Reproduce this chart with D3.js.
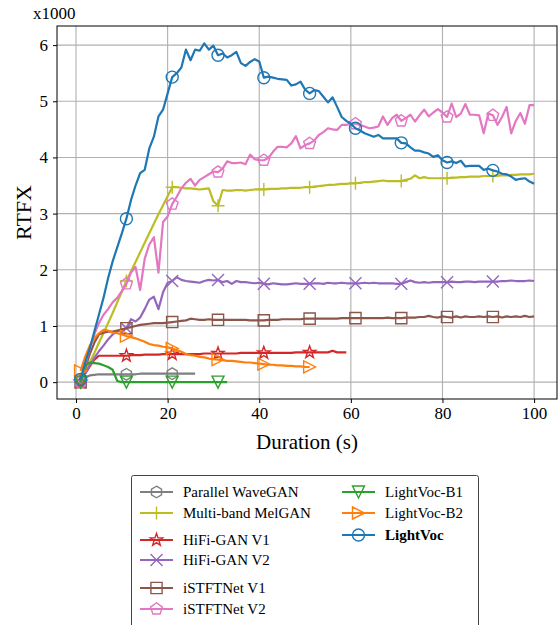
<!DOCTYPE html>
<html><head><meta charset="utf-8">
<script src="https://cdn.jsdelivr.net/npm/d3@7"></script>
<style>
body{margin:0;background:#fff}
svg{display:block}
svg text{font-family:"Liberation Serif","Times New Roman",serif !important;fill:#000}
</style>
</head><body>
<svg id="c" width="558" height="625"></svg>
<script>
// ---- data (RTFX in thousands, durations 1..N seconds, step 1 s) ----
const xTicks = [0, 20, 40, 60, 80, 100];
const yTicks = [0, 1, 2, 3, 4, 5, 6];
const seriesNames = ["Parallel WaveGAN","Multi-band MelGAN","HiFi-GAN V1","HiFi-GAN V2","iSTFTNet V1","iSTFTNet V2","LightVoc-B1","LightVoc-B2","LightVoc"];
const seriesColors = ["#7f7f7f","#bcbd22","#d62728","#9467bd","#8c564b","#e377c2","#2ca02c","#ff7f0e","#1f77b4"];
const seriesMarkers = ["h","+","*","x","s","p","v",">","o"];

const parallelWaveGAN = [0.02,0.08,0.12,0.13,0.14,0.14,0.14,0.14,0.14,0.14,0.14,0.14,0.14,0.15,0.15,0.15,0.15,0.15,0.15,0.15,0.15,0.15,0.15,0.15,0.15,0.15];
const multiBandMelGAN = [0.0,0.17,0.35,0.52,0.7,0.87,1.05,1.23,1.42,1.61,1.8,1.97,2.14,2.31,2.48,2.65,2.82,2.99,3.15,3.31,3.47,
  3.47,3.46,3.45,3.45,3.44,3.43,3.44,3.45,3.22,3.14,3.42,3.41,3.41,3.42,3.42,3.41,3.42,3.43,3.43,
  3.43,3.44,3.44,3.44,3.45,3.45,3.46,3.46,3.46,3.47,3.47,3.48,3.49,3.5,3.51,3.51,3.52,3.53,3.53,3.54,
  3.54,3.55,3.56,3.56,3.57,3.58,3.59,3.58,3.58,3.58,3.58,3.6,3.62,3.68,3.63,3.65,3.63,3.63,3.63,3.63,
  3.63,3.64,3.64,3.65,3.65,3.66,3.66,3.66,3.67,3.67,3.67,3.68,3.68,3.68,3.69,3.69,3.7,3.7,3.7,3.71];
const hifiGANV1 = [0.0,0.15,0.28,0.4,0.47,0.47,0.47,0.47,0.47,0.47,0.47,0.48,0.48,0.48,0.49,0.49,0.49,0.49,0.5,0.5,
  0.5,0.5,0.5,0.5,0.5,0.5,0.5,0.51,0.51,0.51,0.51,0.51,0.51,0.51,0.51,0.52,0.52,0.52,0.52,0.52,
  0.52,0.52,0.52,0.52,0.52,0.52,0.52,0.53,0.53,0.53,0.53,0.53,0.53,0.53,0.53,0.56,0.53,0.53,0.53];
const hifiGANV2 = [0.0,0.15,0.3,0.43,0.55,0.65,0.76,0.85,0.9,0.93,0.96,1.12,1.08,1.15,1.3,1.47,1.52,1.3,1.6,1.77,
  1.8,1.87,1.82,1.8,1.79,1.78,1.77,1.8,1.82,1.81,1.82,1.78,1.8,1.75,1.8,1.78,1.78,1.77,1.76,1.77,
  1.75,1.74,1.76,1.75,1.74,1.74,1.75,1.76,1.75,1.75,1.75,1.76,1.76,1.75,1.77,1.76,1.76,1.77,1.76,1.76,
  1.76,1.76,1.77,1.76,1.77,1.76,1.76,1.76,1.76,1.75,1.75,1.78,1.81,1.78,1.77,1.78,1.77,1.78,1.78,1.78,
  1.78,1.79,1.78,1.78,1.79,1.79,1.78,1.79,1.79,1.79,1.79,1.79,1.8,1.8,1.81,1.8,1.8,1.8,1.81,1.8];
const istftNetV1 = [0.0,0.25,0.5,0.7,0.85,0.88,0.9,0.9,0.92,0.94,0.96,0.98,1.0,1.02,1.03,1.04,1.05,1.05,1.05,1.06,
  1.07,1.08,1.09,1.1,1.13,1.12,1.11,1.11,1.12,1.11,1.11,1.11,1.11,1.11,1.11,1.11,1.11,1.1,1.1,1.1,
  1.1,1.11,1.11,1.11,1.12,1.12,1.12,1.12,1.12,1.13,1.13,1.13,1.13,1.13,1.13,1.13,1.13,1.14,1.14,1.14,
  1.14,1.14,1.14,1.14,1.14,1.14,1.14,1.15,1.14,1.14,1.14,1.15,1.15,1.15,1.16,1.16,1.18,1.16,1.15,1.17,
  1.16,1.15,1.17,1.15,1.17,1.16,1.16,1.17,1.16,1.17,1.16,1.17,1.15,1.17,1.16,1.17,1.16,1.18,1.16,1.17];
const istftNetV2 = [0.0,0.3,0.6,0.85,1.05,1.2,1.3,1.42,1.5,1.62,1.75,1.95,2.05,1.64,2.2,2.45,2.58,1.95,2.85,2.95,
  3.17,3.3,3.45,3.55,3.62,3.5,3.6,3.65,3.7,3.75,3.74,3.8,3.93,3.9,3.9,3.91,3.88,4.05,3.97,3.95,
  3.95,3.99,4.1,4.19,4.19,4.18,4.25,4.38,4.16,4.22,4.25,4.3,4.4,4.45,4.52,4.5,4.49,4.58,4.58,4.6,
  4.6,4.58,4.55,4.52,4.53,4.55,4.73,4.58,4.7,4.76,4.65,4.7,4.76,4.64,4.75,4.85,4.73,4.8,4.86,4.8,
  4.72,4.96,4.72,4.78,4.95,4.76,4.76,4.75,4.43,4.78,4.75,4.58,4.72,4.9,4.43,4.65,4.79,4.6,4.93,4.93];
const lightVocB1 = [0.0,0.3,0.35,0.34,0.33,0.3,0.27,0.22,0.02,0.0,0.0,0.0,0.0,0.0,0.0,0.0,0.0,0.0,0.0,0.0,
  0.0,0.0,0.0,0.0,0.0,0.0,0.0,0.0,0.0,0.0,0.0,0.0,0.0];
const lightVocB2 = [0.2,0.45,0.65,0.78,0.87,0.93,0.92,0.88,0.87,0.85,0.82,0.8,0.78,0.75,0.72,0.68,0.66,0.65,0.63,0.62,
  0.6,0.57,0.54,0.5,0.48,0.47,0.45,0.44,0.42,0.41,0.4,0.39,0.38,0.38,0.37,0.36,0.35,0.35,0.34,0.33,
  0.32,0.31,0.31,0.3,0.3,0.29,0.29,0.28,0.28,0.27,0.27];
const lightVoc = [0.05,0.35,0.6,0.9,1.2,1.5,1.85,2.15,2.4,2.65,2.91,3.24,3.5,3.72,3.78,4.16,4.37,4.73,4.85,5.14,
  5.43,5.5,5.6,5.92,5.73,5.92,5.9,6.03,5.92,5.99,5.82,5.85,5.78,5.82,5.88,5.68,5.63,5.7,5.75,5.71,
  5.42,5.44,5.42,5.4,5.39,5.38,5.28,5.3,5.35,5.21,5.14,5.2,5.18,5.08,4.98,5.07,4.9,4.72,4.65,4.6,
  4.52,4.48,4.43,4.4,4.37,4.4,4.34,4.34,4.34,4.34,4.26,4.25,4.18,4.12,4.12,4.09,4.07,4.01,4.04,3.95,
  3.91,3.93,3.9,3.94,3.84,3.85,3.85,3.85,3.78,3.8,3.77,3.75,3.71,3.7,3.66,3.6,3.62,3.63,3.57,3.53];

const seriesValues = [parallelWaveGAN, multiBandMelGAN, hifiGANV1, hifiGANV2, istftNetV1, istftNetV2, lightVocB1, lightVocB2, lightVoc];

// ---- drawing ----
const FONT = '"Liberation Serif","Times New Roman",serif';
const svg = d3.select("#c");
const L = 57, R = 557, T = 26, B = 399;
const x = d3.scaleLinear().domain([-4.15, 105]).range([L, R]);
const y = d3.scaleLinear().domain([-0.30, 6.34]).range([B, T]);

// grid
const grid = svg.append("g");
grid.selectAll("line.gx").data(xTicks).join("line")
  .attr("x1", d => x(d)).attr("x2", d => x(d)).attr("y1", T).attr("y2", B)
  .attr("stroke", "#b0b0b0").attr("stroke-width", 1.1);
grid.selectAll("line.gy").data(yTicks).join("line")
  .attr("y1", d => y(d)).attr("y2", d => y(d)).attr("x1", L).attr("x2", R)
  .attr("stroke", "#b0b0b0").attr("stroke-width", 1.1);

// axes
const xAxis = svg.append("g").attr("transform", `translate(0,${B})`)
  .call(d3.axisBottom(x).tickValues(xTicks).tickSize(4).tickPadding(4).tickFormat(d3.format("d")));
const yAxis = svg.append("g").attr("transform", `translate(${L},0)`)
  .call(d3.axisLeft(y).tickValues(yTicks).tickSize(4).tickPadding(5).tickFormat(d3.format("d")));
[xAxis, yAxis].forEach(a => {
  a.attr("font-family", FONT).attr("font-size", 17);
  a.select(".domain").remove();
  a.selectAll(".tick line").attr("stroke", "#000").attr("stroke-width", 1);
  a.selectAll(".tick text").attr("font-family", FONT).attr("font-size", 17).attr("fill", "#000");
});

// marker shapes
function markerPath(t) {
  const poly = (n, r, rot) => {
    const pts = d3.range(n).map(k => {
      const a = (rot + 360 * k / n) * Math.PI / 180;
      return [r * Math.cos(a), r * Math.sin(a)];
    });
    return "M" + pts.map(p => p[0].toFixed(2) + "," + p[1].toFixed(2)).join("L") + "Z";
  };
  switch (t) {
    case "o": return "M6,0A6,6 0 1,1 -6,0A6,6 0 1,1 6,0Z";
    case "h": return poly(6, 5.8, -90);
    case "p": return poly(5, 6.2, -90);
    case "s": return "M-5.6,-5.6H5.6V5.6H-5.6Z";
    case "*": {
      const pts = d3.range(10).map(k => {
        const r = k % 2 === 0 ? 6.5 : 2.6;
        const a = (-90 + 36 * k) * Math.PI / 180;
        return [r * Math.cos(a), r * Math.sin(a)];
      });
      return "M" + pts.map(p => p[0].toFixed(2) + "," + p[1].toFixed(2)).join("L") + "Z";
    }
    case "x": return "M-6,-6L6,6M-6,6L6,-6";
    case "+": return "M-6.5,0H6.5M0,-6.5V6.5";
    case "v": return "M0,6L6,-6L-6,-6Z";
    case ">": return "M6,0L-6,6L-6,-6Z";
  }
}

const plot = svg.append("g");
const line = d3.line().x((d, i) => x(i + 1)).y(d => y(d));
seriesValues.forEach((vals, s) => {
  const g = plot.append("g");
  g.append("path").datum(vals).attr("d", line)
    .attr("fill", "none").attr("stroke", seriesColors[s]).attr("stroke-width", 2.2)
    .attr("stroke-linejoin", "round");
  g.selectAll("path.m").data(vals.map((v, i) => [i + 1, v]).filter((d, i) => i % 10 === 0))
    .join("path").attr("class", "m")
    .attr("transform", d => `translate(${x(d[0])},${y(d[1])})`)
    .attr("d", markerPath(seriesMarkers[s]))
    .attr("fill", "none").attr("stroke", seriesColors[s]).attr("stroke-width", 1.4);
});

// spines
svg.append("rect").attr("x", L).attr("y", T).attr("width", R - L).attr("height", B - T)
  .attr("fill", "none").attr("stroke", "#000").attr("stroke-width", 1);

// labels
svg.append("text").attr("x", 33).attr("y", 19).attr("font-family", FONT).attr("font-size", 17).text("x1000");
svg.append("text").attr("transform", `translate(31,${(T + B) / 2}) rotate(-90)`)
  .attr("text-anchor", "middle").attr("font-family", FONT).attr("font-size", 22).text("RTFX");
svg.append("text").attr("x", (L + R) / 2).attr("y", 449).attr("text-anchor", "middle")
  .attr("font-family", FONT).attr("font-size", 21).text("Duration (s)");

// legend
const legend = svg.append("g");
legend.append("rect").attr("x", 131.5).attr("y", 475.5).attr("width", 347).attr("height", 170).attr("rx", 2)
  .attr("fill", "#fff").attr("stroke", "#444").attr("stroke-width", 1);
const legendPos = [[140, 492], [140, 513], [140, 540], [140, 560], [140, 588], [140, 609], [342, 492], [342, 513], [342, 535]];
seriesNames.forEach((name, s) => {
  const [lx, ly] = legendPos[s];
  const g = legend.append("g").attr("transform", `translate(${lx},${ly})`);
  g.append("line").attr("x1", 0).attr("x2", 33).attr("y1", 0).attr("y2", 0)
    .attr("stroke", seriesColors[s]).attr("stroke-width", 2.2);
  g.append("path").attr("transform", "translate(16.5,0)").attr("d", markerPath(seriesMarkers[s]))
    .attr("fill", "none").attr("stroke", seriesColors[s]).attr("stroke-width", 1.4);
  g.append("text").attr("x", 43).attr("y", 5).attr("font-family", FONT).attr("font-size", 15)
    .attr("font-weight", name === "LightVoc" ? "bold" : "normal").text(name);
});
</script>
</body></html>
